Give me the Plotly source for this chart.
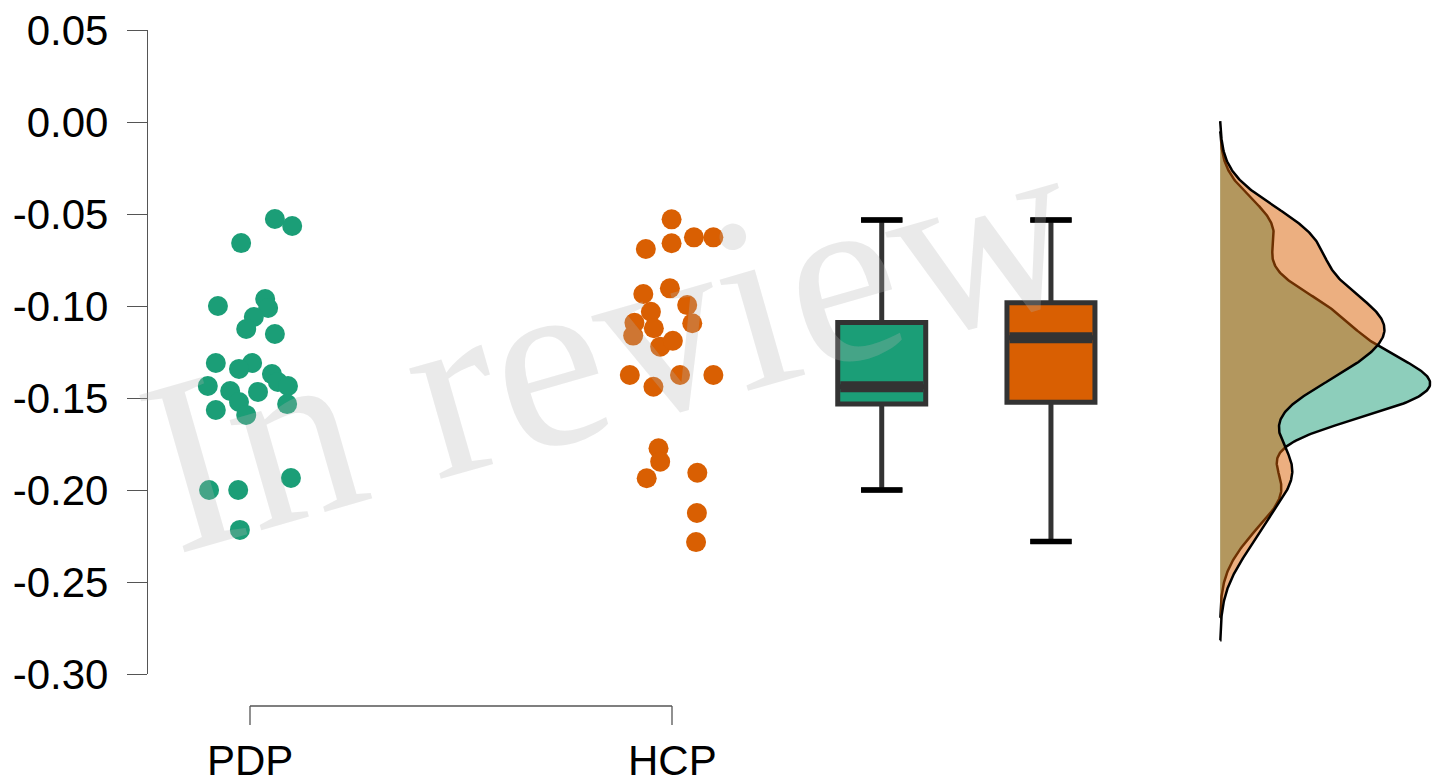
import numpy as np
import plotly.graph_objects as go

# ---------------- data ----------------
categories = ["PDP", "HCP"]

pdp_values = [-0.0527, -0.0565, -0.0658, -0.1000, -0.0962, -0.1011, -0.1060, -0.1125,
              -0.1152, -0.1310, -0.1310, -0.1342, -0.1370, -0.1413, -0.1435, -0.1435,
              -0.1462, -0.1467, -0.1565, -0.1522, -0.1592, -0.1533, -0.2000, -0.2000,
              -0.1935, -0.2217]
pdp_jitter = [0.059, 0.100, -0.021, -0.076, 0.036, 0.043, 0.009, -0.009,
              0.059, -0.081, 0.005, -0.026, 0.052, 0.066, 0.090, -0.100,
              -0.047, 0.019, -0.081, -0.026, -0.009, 0.088, -0.097, -0.028,
              0.097, -0.024]

hcp_values = [-0.0529, -0.0690, -0.0659, -0.0627, -0.0627, -0.0935, -0.0904, -0.1031,
              -0.0995, -0.1094, -0.1091, -0.1161, -0.1121, -0.1221, -0.1189, -0.1375,
              -0.1439, -0.1375, -0.1375, -0.1773, -0.1846, -0.1936, -0.1906, -0.2125,
              -0.2283]
hcp_jitter = [-0.001, -0.062, -0.001, 0.052, 0.098, -0.068, -0.005, -0.050,
              0.036, 0.048, -0.089, -0.092, -0.043, -0.028, 0.002, -0.100,
              -0.044, 0.019, 0.098, -0.032, -0.028, -0.060, 0.060, 0.059,
              0.057]

# box statistics (PDP, HCP)
box_q1 = [-0.1533, -0.1523]
box_median = [-0.1439, -0.1172]
box_q3 = [-0.1090, -0.0982]
box_lower = [-0.2000, -0.2280]
box_upper = [-0.0533, -0.0533]

y_tickvals = [0.05, 0.00, -0.05, -0.10, -0.15, -0.20, -0.25, -0.30]
y_ticktext = ["0.05", "0.00", "-0.05", "-0.10", "-0.15", "-0.20", "-0.25", "-0.30"]

# ---------------- style ----------------
GREEN = "#1B9E77"
ORANGE = "#D95F02"
GREEN_A = "rgba(27,158,119,0.5)"
ORANGE_A = "rgba(217,95,2,0.5)"
AXIS_C = "#555555"
FONT = "Liberation Sans, Arial, sans-serif"

OFF = 8  # page body margin
W, H = 1443 - OFF, 783 - OFF
PLOT_LEFT, PLOT_TOP, PLOT_BOTTOM = 148, 30, 674  # window pixels
ML, MT, MB = PLOT_LEFT - OFF, PLOT_TOP - OFF, H - (PLOT_BOTTOM - OFF)
PX_PER_UNIT = 422.0
pos_cat = [1.0, 2.0]
pos_box = [2.497, 2.898]
pos_dens = 3.299
box_width = 0.2085
cap_width = 0.47 * box_width
dens_width = 0.4976

x_left = 1 - (250 - PLOT_LEFT) / PX_PER_UNIT
x_right = 1 + (1443 - 250) / PX_PER_UNIT

fig = go.Figure()

# jittered points
for vals, jit, pos, col, name in [(pdp_values, pdp_jitter, pos_cat[0], GREEN, categories[0]),
                                  (hcp_values, hcp_jitter, pos_cat[1], ORANGE, categories[1])]:
    fig.add_trace(go.Scatter(
        x=[pos + j for j in jit], y=vals, mode="markers",
        marker=dict(size=20, color=col, line=dict(width=0)),
        name=name, showlegend=False, hoverinfo="y"))

# boxes
for i, col in enumerate([GREEN, ORANGE]):
    fig.add_trace(go.Box(
        x=[pos_box[i]], q1=[box_q1[i]], median=[box_median[i]], q3=[box_q3[i]],
        lowerfence=[box_lower[i]], upperfence=[box_upper[i]],
        width=box_width, whiskerwidth=0.47, fillcolor=col,
        line=dict(color="#333333", width=5), boxpoints=False,
        showlegend=False, name=categories[i]))
    # thick median bar
    fig.add_trace(go.Scatter(
        x=[pos_box[i] - box_width / 2 + 0.006, pos_box[i] + box_width / 2 - 0.006],
        y=[box_median[i], box_median[i]], mode="lines",
        line=dict(color="#333333", width=11), showlegend=False, hoverinfo="skip"))
    # black whisker caps
    for v in (box_lower[i], box_upper[i]):
        fig.add_trace(go.Scatter(
            x=[pos_box[i] - cap_width / 2, pos_box[i] + cap_width / 2], y=[v, v],
            mode="lines", line=dict(color="black", width=5.5),
            showlegend=False, hoverinfo="skip"))


# densities (gaussian KDE, R's bw.nrd0, cut = 3)
def bw_nrd0(x):
    x = np.asarray(x)
    hi = np.std(x, ddof=1)
    q75, q25 = np.percentile(x, [75, 25])
    lo = min(hi, (q75 - q25) / 1.34)
    return 0.9 * lo * len(x) ** (-0.2)


def kde(x):
    x = np.asarray(x)
    bw = bw_nrd0(x)
    grid = np.linspace(x.min() - 3 * bw, x.max() + 3 * bw, 512)
    d = np.exp(-0.5 * ((grid[:, None] - x[None, :]) / bw) ** 2).sum(axis=1)
    d /= (len(x) * bw * np.sqrt(2 * np.pi))
    return grid, d


g_grid, g_d = kde(pdp_values)
o_grid, o_d = kde(hcp_values)
scale = dens_width / max(g_d.max(), o_d.max())

for grid, d, fcol in [(g_grid, g_d, GREEN_A), (o_grid, o_d, ORANGE_A)]:
    xs = np.concatenate([[pos_dens], pos_dens + d * scale, [pos_dens]])
    ys = np.concatenate([[grid[0]], grid, [grid[-1]]])
    fig.add_trace(go.Scatter(
        x=xs, y=ys, mode="lines", fill="toself", fillcolor=fcol,
        line=dict(color="black", width=2.5), showlegend=False, hoverinfo="skip"))

# x-axis bracket
plot_h = PLOT_BOTTOM - PLOT_TOP


def py2paper(py):
    """window pixel y -> paper y"""
    return (PLOT_BOTTOM - py) / plot_h


y_br = py2paper(706)
y_br2 = py2paper(725)
shapes = [
    dict(type="line", xref="x", yref="paper", x0=pos_cat[0], x1=pos_cat[1], y0=y_br, y1=y_br,
         line=dict(color=AXIS_C, width=1.3)),
]
for p in pos_cat:
    shapes.append(dict(type="line", xref="x", yref="paper", x0=p, x1=p, y0=y_br, y1=y_br2,
                       line=dict(color=AXIS_C, width=1.3)))

annotations = []
for p, lab in zip(pos_cat, categories):
    annotations.append(dict(x=p, y=py2paper(760), xref="x", yref="paper", text=lab,
                            showarrow=False, xanchor="center", yanchor="middle",
                            font=dict(family=FONT, size=42, color="black")))

# watermark
annotations.append(dict(x=1.852, y=-0.1196, xref="x", yref="y", text="In review",
                        showarrow=False, textangle=-16,
                        font=dict(family="Liberation Serif, Times New Roman, serif",
                                  size=250, color="rgba(180,180,180,0.28)")))

fig.update_layout(
    width=W, height=H,
    margin=dict(l=ML, r=0, t=MT, b=MB, pad=0),
    paper_bgcolor="white", plot_bgcolor="white",
    xaxis=dict(range=[x_left, x_right], visible=False, fixedrange=True),
    yaxis=dict(range=[-0.30, 0.05], tickvals=y_tickvals, ticktext=y_ticktext,
               showline=True, linecolor=AXIS_C, linewidth=1.3,
               ticks="outside", ticklen=20, tickcolor=AXIS_C, tickwidth=1.3,
               tickfont=dict(family=FONT, size=42, color="black"),
               ticklabelstandoff=10, ticklabeloverflow="allow",
               showgrid=False, zeroline=False, fixedrange=True),
    shapes=shapes, annotations=annotations,
    showlegend=False,
)

fig.write_html("out.html")
